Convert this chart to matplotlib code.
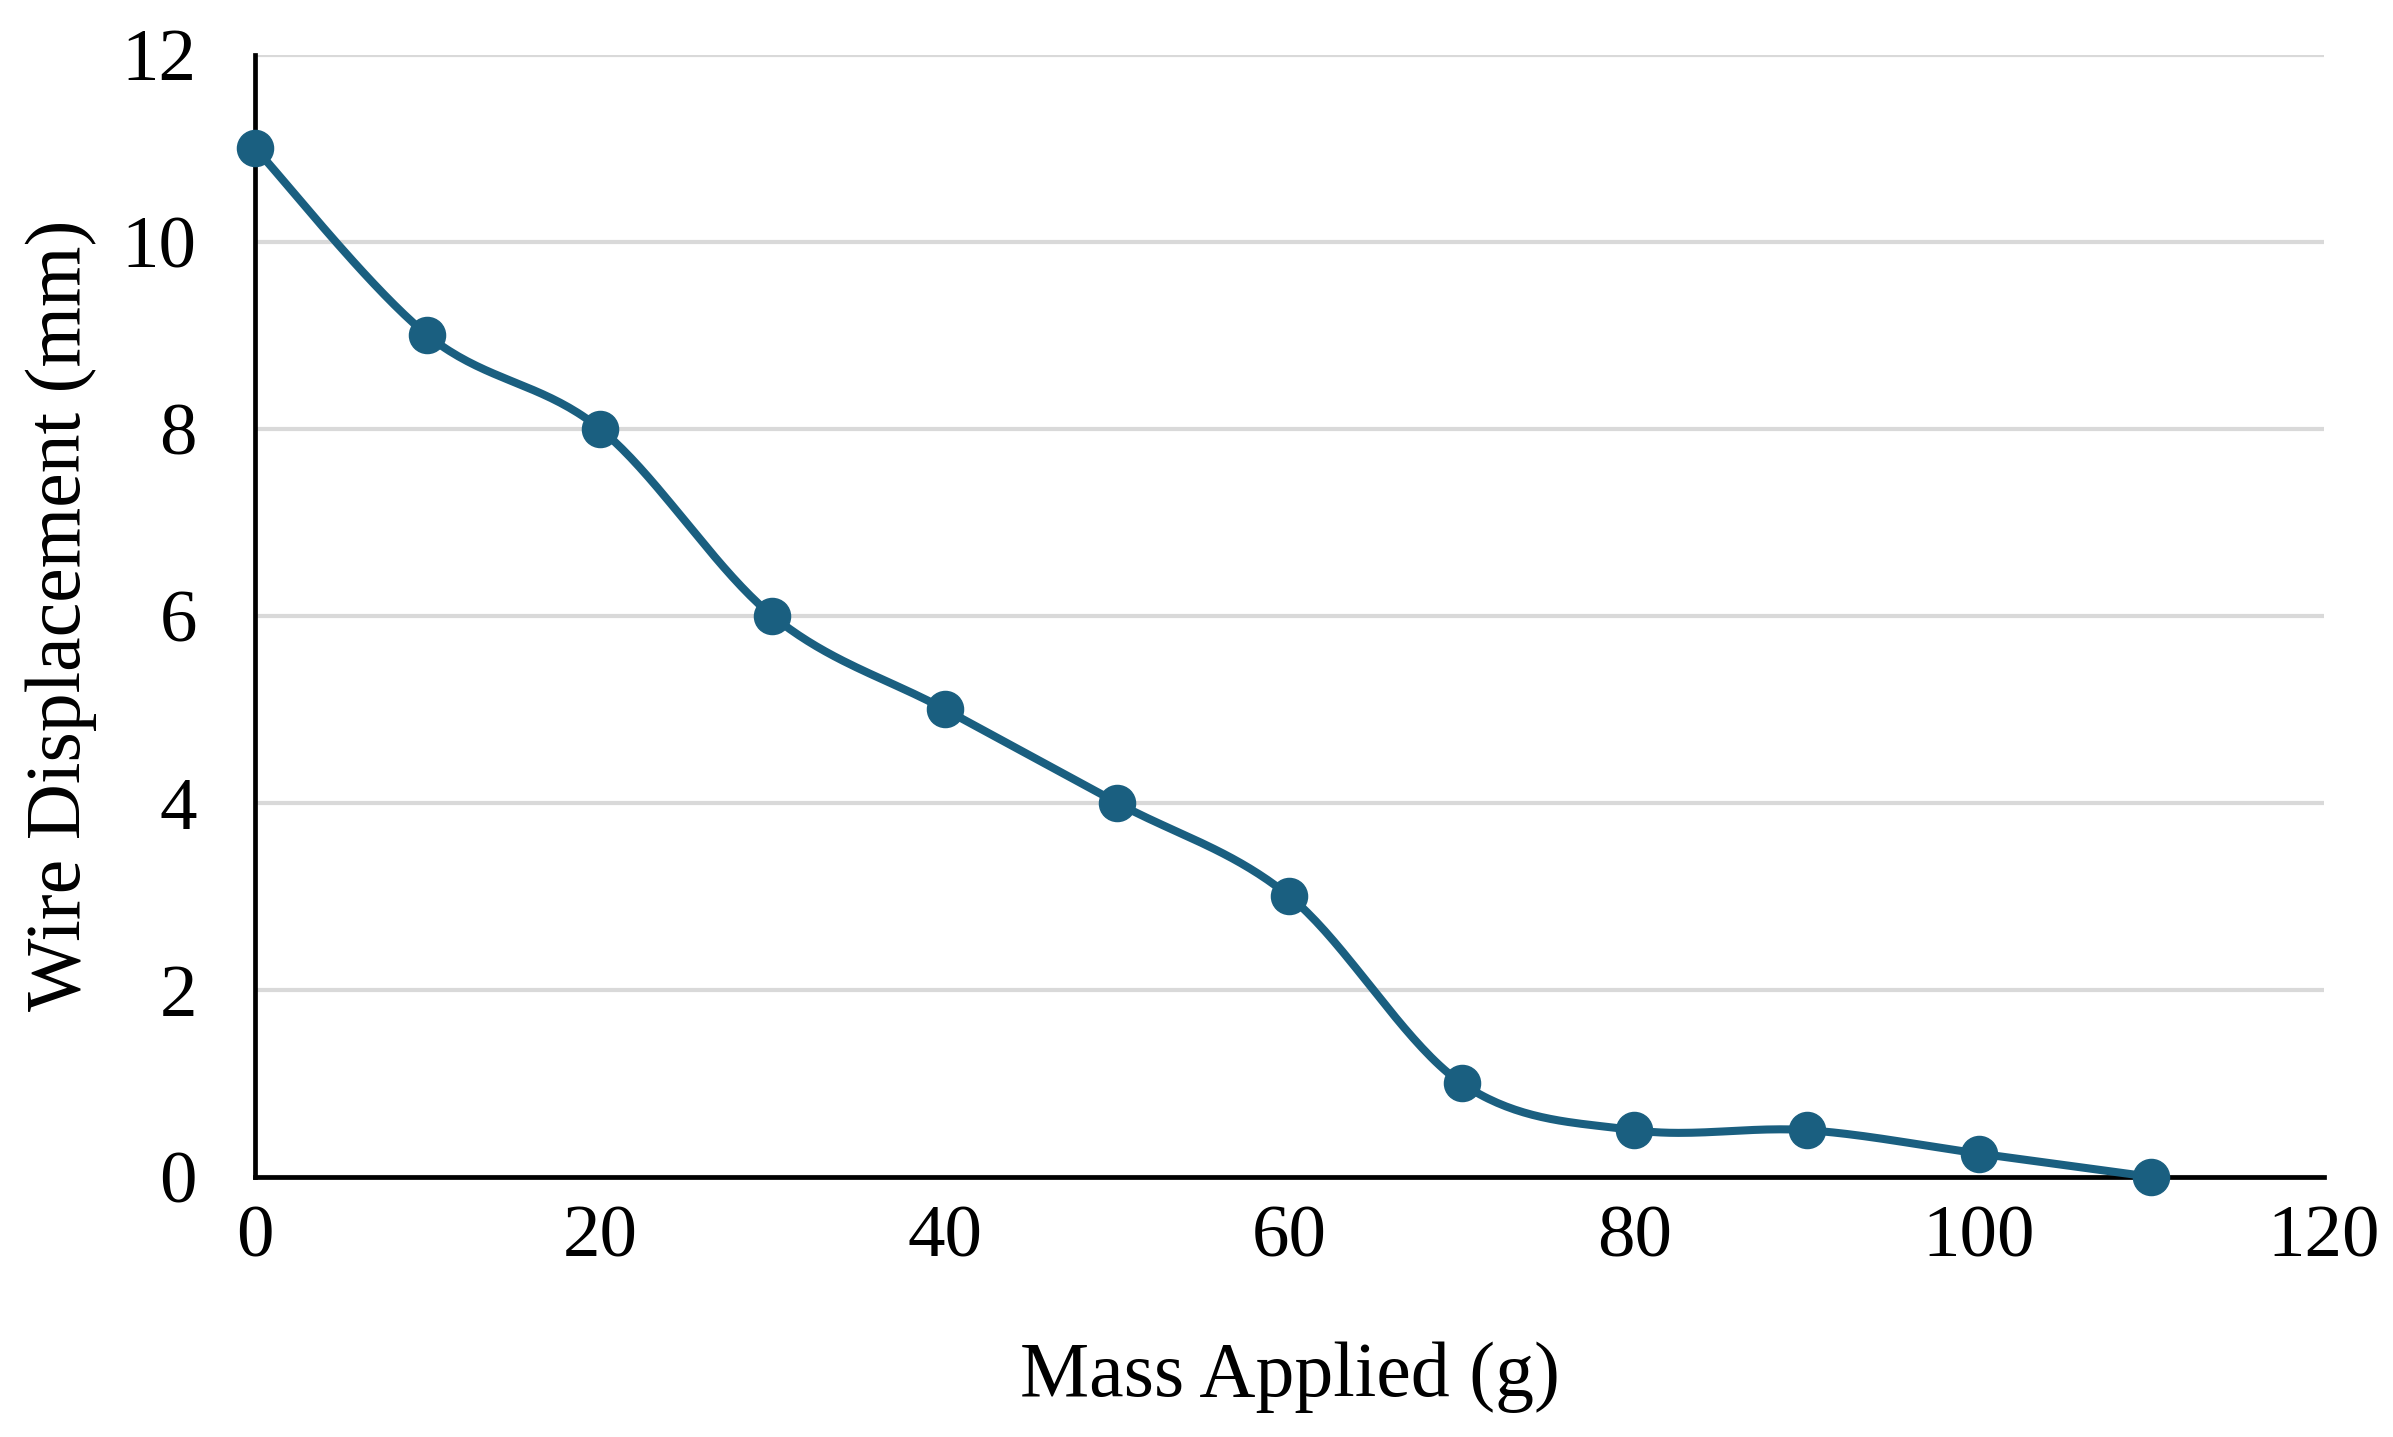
import numpy as np
import matplotlib.pyplot as plt

mass = [0, 10, 20, 30, 40, 50, 60, 70, 80, 90, 100, 110]
displacement = [11, 9, 8, 6, 5, 4, 3, 1, 0.5, 0.5, 0.25, 0]

line_color = '#1a5f80'


def smooth_curve(x, y, steps=40):
    # Excel-style smoothed line: cubic Bezier segments with Catmull-Rom control points
    x = np.asarray(x, float)
    y = np.asarray(y, float)
    px = np.concatenate([[x[0]], x, [x[-1]]])
    py = np.concatenate([[y[0]], y, [y[-1]]])
    t = np.linspace(0, 1, steps)
    xs, ys = [], []
    for i in range(1, len(px) - 2):
        p0 = np.array([px[i], py[i]])
        p3 = np.array([px[i + 1], py[i + 1]])
        c1 = p0 + (p3 - np.array([px[i - 1], py[i - 1]])) / 6
        c2 = p3 - (np.array([px[i + 2], py[i + 2]]) - p0) / 6
        b = ((1 - t) ** 3)[:, None] * p0 + (3 * (1 - t) ** 2 * t)[:, None] * c1 \
            + (3 * (1 - t) * t ** 2)[:, None] * c2 + (t ** 3)[:, None] * p3
        xs.extend(b[:, 0])
        ys.extend(b[:, 1])
    return xs, ys


plt.rcParams['font.family'] = ['Liberation Serif', 'DejaVu Serif']

fig = plt.figure(figsize=(23.93, 14.37), dpi=100)
ax = fig.add_axes([0.1066, 0.181, 0.8645, 0.781])

sx, sy = smooth_curve(mass, displacement)
ax.plot(sx, sy, color=line_color, linewidth=5.8, zorder=3, clip_on=False)
ax.plot(mass, displacement, 'o', color=line_color, markersize=26, zorder=4, clip_on=False)

ax.set_xlim(0, 120)
ax.set_ylim(0, 12)
ax.set_xticks(range(0, 121, 20))
ax.set_yticks(range(0, 13, 2))

ax.grid(axis='y', color='#d9d9d9', linewidth=3)
ax.set_axisbelow(True)
for s in ['top', 'right']:
    ax.spines[s].set_visible(False)
for s in ['left', 'bottom']:
    ax.spines[s].set_linewidth(3.4)
    ax.spines[s].set_zorder(2.5)

ax.tick_params(axis='both', length=0, labelsize=54)
ax.tick_params(axis='y', pad=42)
ax.tick_params(axis='x', pad=20)

ax.set_xlabel('Mass Applied (g)', fontsize=56, labelpad=50)
ax.set_ylabel('Wire Displacement (mm)', fontsize=56, labelpad=18)

fig.savefig('out.png', dpi=100, facecolor='white')
